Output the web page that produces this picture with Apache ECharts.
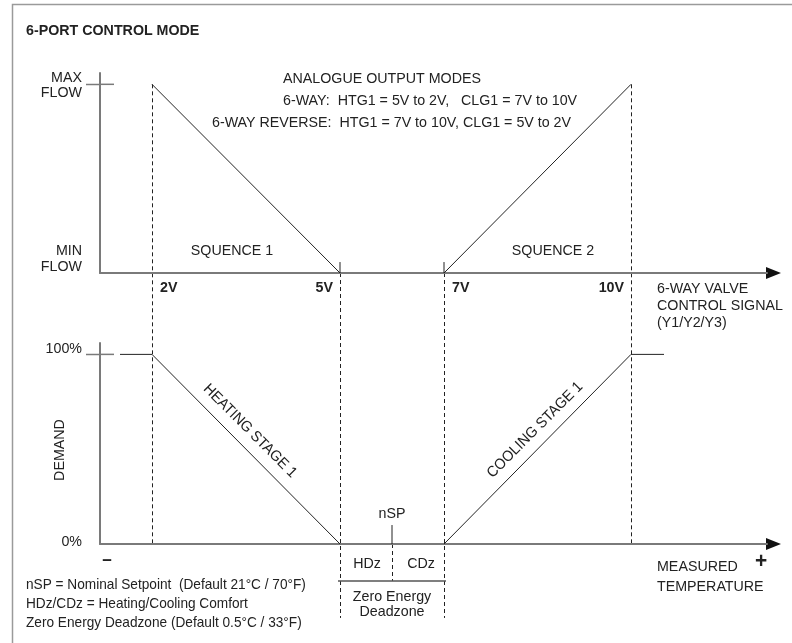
<!DOCTYPE html>
<html>
<head>
<meta charset="utf-8">
<script src="https://cdn.jsdelivr.net/npm/echarts@6/dist/echarts.min.js"></script>
<style>
html, body { margin: 0; padding: 0; background: #fff; }
#chart { width: 792px; height: 643px; }
</style>
</head>
<body>
<div id="chart"></div>
<script>
// positions along the schematic horizontal axis (0 = vertical axis)
var breakLabels = ['2V', '5V', '7V', '10V'];
var breakPos = [52, 240, 344, 531];
var nspPos = 292;
var demandLeadIn = 20;
var demandLeadOut = 564;

// valve flow: 0 = MIN FLOW, 100 = MAX FLOW
var heatFlow = [100, 0];
var coolFlow = [0, 100];
// demand in %
var heatDemand = [100, 100, 0];
var coolDemand = [0, 100, 100];

var FONT = "'Liberation Sans', Arial, sans-serif";
var INK = '#222';
var AXIS = '#7a7a7a';

var myChart = echarts.init(document.getElementById('chart'));

function xAxisCfg(i) {
    return {
        type: 'value', gridIndex: i, min: 0, max: 667,
        axisLine: { show: true, lineStyle: { color: AXIS, width: 2 } },
        axisTick: { show: false }, axisLabel: { show: false }, splitLine: { show: false }
    };
}
function yAxisCfg(i) {
    return {
        type: 'value', gridIndex: i, min: 0, max: 106,
        axisLine: { show: true, lineStyle: { color: AXIS, width: 2 } },
        axisTick: { show: false }, axisLabel: { show: false }, splitLine: { show: false }
    };
}
function seg(grid, data, color, width) {
    return {
        type: 'line', xAxisIndex: grid, yAxisIndex: grid, data: data,
        symbol: 'none', clip: false, silent: true,
        lineStyle: { color: color || INK, width: width || 1 }
    };
}

var option = {
    animation: false,
    grid: [
        { left: 100, top: 73, width: 667, height: 200 },
        { left: 100, top: 343, width: 667, height: 201 }
    ],
    xAxis: [xAxisCfg(0), xAxisCfg(1)],
    yAxis: [yAxisCfg(0), yAxisCfg(1)],
    series: [
        // upper: valve flow vs signal
        seg(0, [[breakPos[0], heatFlow[0]], [breakPos[1], heatFlow[1]]]),
        seg(0, [[breakPos[2], coolFlow[0]], [breakPos[3], coolFlow[1]]]),
        seg(0, [[0, 100], [14, 100]], AXIS, 1.5),
        seg(0, [[breakPos[1], 0], [breakPos[1], 5.8]]),
        seg(0, [[breakPos[2], 0], [breakPos[2], 5.8]]),
        // lower: demand vs measured temperature
        seg(1, [[demandLeadIn, heatDemand[0]], [breakPos[0], heatDemand[1]], [breakPos[1], heatDemand[2]]]),
        seg(1, [[breakPos[2], coolDemand[0]], [breakPos[3], coolDemand[1]], [demandLeadOut, coolDemand[2]]]),
        seg(1, [[0, 100], [14, 100]], AXIS, 1.5),
        seg(1, [[nspPos, 0], [nspPos, 10]]),
        seg(1, [[breakPos[1] - 2, -19.5], [breakPos[2] + 2, -19.5]], '#555', 1.5)
    ]
};
myChart.setOption(option);

function px(grid, x, y) {
    return myChart.convertToPixel({ gridIndex: grid }, [x, y]);
}
function dashed(p1, p2) {
    return { type: 'line', silent: true,
        shape: { x1: Math.round(p1[0]) + 0.5, y1: p1[1], x2: Math.round(p2[0]) + 0.5, y2: p2[1] },
        style: { stroke: INK, lineWidth: 1, lineDash: [4, 3] } };
}
function txt(text, x, y, opt) {
    opt = opt || {};
    return { type: 'text', x: x, y: y, rotation: opt.rot || 0, silent: true,
        scaleX: opt.sx || 0.95,
        style: { text: text, fill: opt.color || INK,
            font: (opt.bold ? 'bold ' : '') + (opt.size || 15) + 'px ' + FONT,
            align: opt.align || 'left', verticalAlign: 'middle' } };
}

var g = [];
g.push({ type: 'rect', silent: true, shape: { x: 12.5, y: 4.5, width: 800, height: 660 },
    style: { fill: 'none', stroke: '#9a9a9a', lineWidth: 1.5 } });

// left half of the MAX / 100% ticks, arrow heads
[0, 1].forEach(function (gi) {
    var a = px(gi, 0, 100);
    g.push({ type: 'line', silent: true, shape: { x1: a[0] - 14, y1: Math.round(a[1]) + 0.5, x2: a[0], y2: Math.round(a[1]) + 0.5 },
        style: { stroke: AXIS, lineWidth: 1.5 } });
    var e = px(gi, 667, 0);
    g.push({ type: 'polygon', silent: true,
        shape: { points: [[e[0] - 1, e[1] - 6], [e[0] + 14, e[1]], [e[0] - 1, e[1] + 6]] },
        style: { fill: '#111' } });
});

// guide lines across both panels
g.push(dashed(px(0, breakPos[0], 100), px(1, breakPos[0], 0)));
g.push(dashed(px(0, breakPos[1], 0), px(1, breakPos[1], -39)));
g.push(dashed(px(0, breakPos[2], 0), px(1, breakPos[2], -39)));
g.push(dashed(px(0, breakPos[3], 100), px(1, breakPos[3], 0)));
g.push(dashed(px(1, nspPos, 0), px(1, nspPos, -19.5)));

// voltage labels
var vy = 288;
breakLabels.forEach(function (lab, i) {
    var p = px(0, breakPos[i], 0);
    var left = (i === 0 || i === 2);
    g.push(txt(lab, left ? p[0] + 8 : p[0] - 7, vy, { bold: true, align: left ? 'left' : 'right', size: 15 }));
});

g.push(txt('6-PORT CONTROL MODE', 26, 31, { bold: true, size: 15 }));
g.push(txt('MAX', 82, 78, { align: 'right' }));
g.push(txt('FLOW', 82, 93, { align: 'right' }));
g.push(txt('MIN', 82, 251, { align: 'right' }));
g.push(txt('FLOW', 82, 267, { align: 'right' }));
g.push(txt('100%', 82, 349, { align: 'right' }));
g.push(txt('0%', 82, 542, { align: 'right' }));
g.push(txt('DEMAND', 60, 450, { align: 'center', rot: Math.PI / 2 }));
g.push(txt('ANALOGUE OUTPUT MODES', 283, 79));
g.push(txt('6-WAY:  HTG1 = 5V to 2V,   CLG1 = 7V to 10V', 283, 101));
g.push(txt('6-WAY REVERSE:  HTG1 = 7V to 10V, CLG1 = 5V to 2V', 212, 123));
g.push(txt('SQUENCE 1', 232, 251, { align: 'center' }));
g.push(txt('SQUENCE 2', 553, 251, { align: 'center' }));
g.push(txt('6-WAY VALVE', 657, 289));
g.push(txt('CONTROL SIGNAL', 657, 306));
g.push(txt('(Y1/Y2/Y3)', 657, 323));
g.push(txt('HEATING STAGE 1', 250, 431, { align: 'center', rot: -Math.PI / 4 }));
g.push(txt('COOLING STAGE 1', 535, 430, { align: 'center', rot: Math.PI / 4 }));
g.push(txt('nSP', 392, 514, { align: 'center' }));
g.push(txt('HDz', 367, 564, { align: 'center' }));
g.push(txt('CDz', 421, 564, { align: 'center' }));
g.push(txt('Zero Energy', 392, 597, { align: 'center' }));
g.push(txt('Deadzone', 392, 612, { align: 'center' }));
g.push(txt('\u2013', 107, 560, { bold: true, size: 18, align: 'center' }));
g.push(txt('+', 761, 562, { bold: true, size: 22, align: 'center' }));
g.push(txt('MEASURED', 657, 567));
g.push(txt('TEMPERATURE', 657, 587));
g.push(txt('nSP = Nominal Setpoint  (Default 21\u00b0C / 70\u00b0F)', 26, 585, { sx: 0.91 }));
g.push(txt('HDz/CDz = Heating/Cooling Comfort', 26, 604, { sx: 0.91 }));
g.push(txt('Zero Energy Deadzone (Default 0.5\u00b0C / 33\u00b0F)', 26, 623, { sx: 0.91 }));

myChart.setOption({ graphic: g });
</script>
</body>
</html>
